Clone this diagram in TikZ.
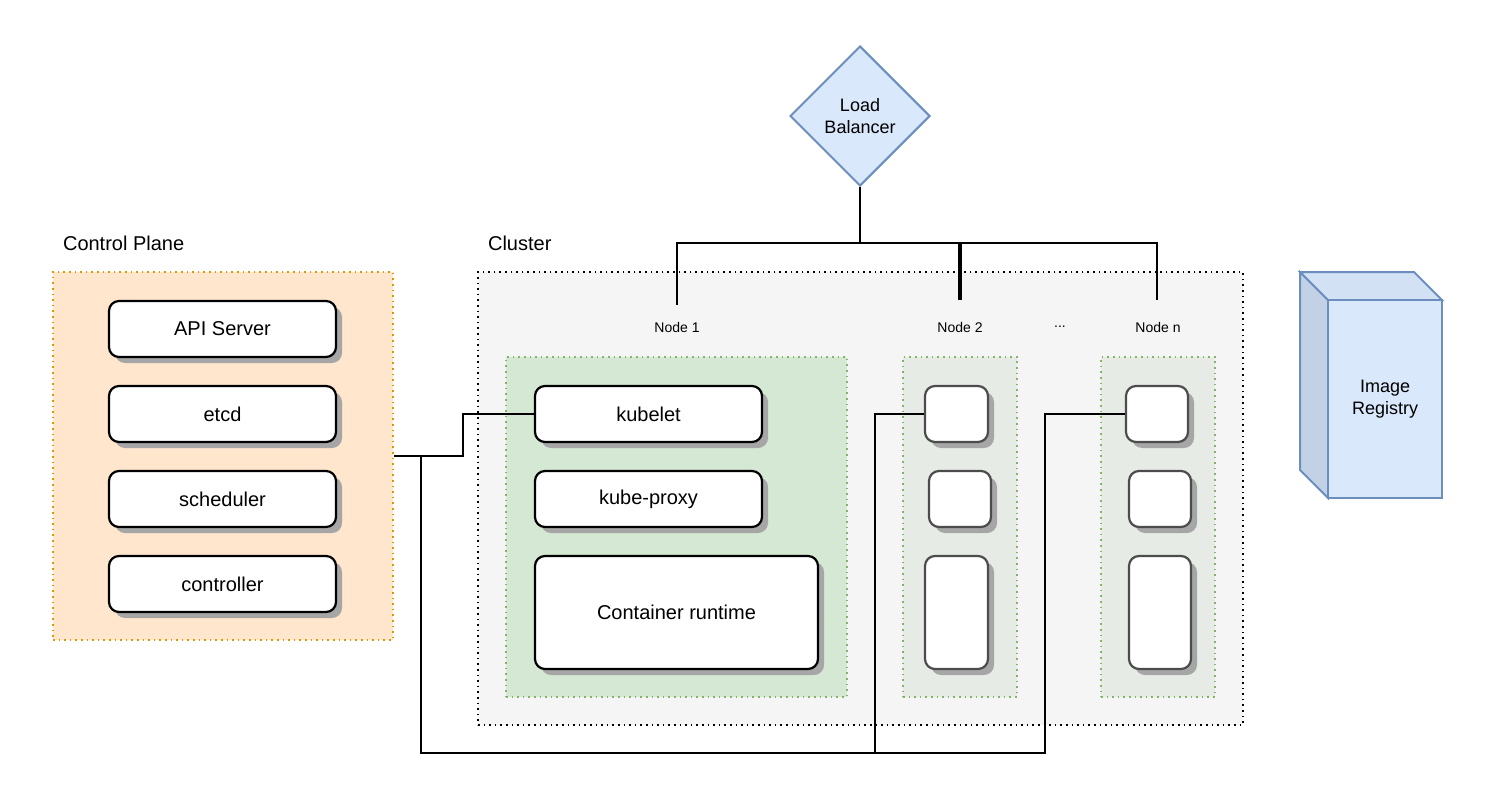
\documentclass[tikz,border=0pt]{standalone}
\usepackage{fontspec}
\setmainfont{Liberation Sans}
\usetikzlibrary{shapes.geometric,shadows}

\definecolor{cpfill}{HTML}{FFE6CC}
\definecolor{cpline}{HTML}{D79B00}
\definecolor{clfill}{HTML}{F5F5F5}
\definecolor{nfill}{HTML}{D5E8D4}
\definecolor{nline}{HTML}{82B366}
\definecolor{ngray}{HTML}{E6ECE5}
\definecolor{bfill}{HTML}{DAE8FC}
\definecolor{bline}{HTML}{6C8EBF}
\definecolor{bside}{HTML}{C3D1E6}

\tikzset{
  group/.style={draw,dotted,line width=0.8pt,inner sep=0pt},
  comp/.style={draw,rounded corners=5pt,fill=white,line width=1.1pt,
    font=\fontsize{10}{12}\selectfont,inner sep=0pt,
    drop shadow={shadow xshift=3pt,shadow yshift=-3pt,fill=black!35,opacity=1}},
  pod/.style={comp,draw=black!70},
  lbl/.style={font=\fontsize{7}{8}\selectfont},
  wire/.style={line width=1pt}
}

\begin{document}
\begin{tikzpicture}[x=0.5pt,y=-0.5pt]
\useasboundingbox (0,0) rectangle (1502,792);

% control plane
\node[group,draw=cpline,fill=cpfill,minimum width=170pt,minimum height=184pt] (cp) at (223,456) {};
\node[anchor=west,font=\fontsize{10}{12}\selectfont] (cpl) at (56,243) {Control Plane};
\node[comp,minimum width=113.5pt,minimum height=28pt] (api) at (222.5,329) {API Server};
\node[comp,minimum width=113.5pt,minimum height=28pt] (etcd) at (222.5,414) {etcd};
\node[comp,minimum width=113.5pt,minimum height=28pt] (sch) at (222.5,499) {scheduler};
\node[comp,minimum width=113.5pt,minimum height=28pt] (ctl) at (222.5,584) {controller};

% cluster
\node[group,fill=clfill,minimum width=382.5pt,minimum height=226.5pt] (cl) at (860.5,498.5) {};
\node[anchor=west,font=\fontsize{10}{12}\selectfont] (cll) at (481,243) {Cluster};

\node[lbl] (n1l) at (677,327) {Node 1};
\node[lbl] (n2l) at (960,327) {Node 2};
\node[lbl] (dots) at (1060,327) {...};
\node[lbl] (nnl) at (1158,327) {Node n};

% node 1
\node[group,draw=nline,fill=nfill,minimum width=170.5pt,minimum height=170pt] (n1) at (676.5,527) {};
\node[comp,minimum width=113.5pt,minimum height=28pt] (kubelet) at (648.5,414) {kubelet};
\node[comp,minimum width=113.5pt,minimum height=28pt] (proxy) at (648.5,499) {kube-proxy};
\node[comp,minimum width=141.5pt,minimum height=56.5pt] (cr) at (676.5,612.5) {Container runtime};

% node 2
\node[group,draw=nline,fill=ngray,minimum width=57pt,minimum height=170pt] (n2) at (960,527) {};
\node[pod,minimum width=31.5pt,minimum height=28pt] (n2a) at (956.5,414) {};
\node[pod,minimum width=31pt,minimum height=28pt] (n2b) at (960,499) {};
\node[pod,minimum width=31.5pt,minimum height=56.5pt] (n2c) at (956.5,612.5) {};

% node n
\node[group,draw=nline,fill=ngray,minimum width=57pt,minimum height=170pt] (nn) at (1158,527) {};
\node[pod,minimum width=31pt,minimum height=28pt] (nna) at (1157,414) {};
\node[pod,minimum width=31pt,minimum height=28pt] (nnb) at (1160,499) {};
\node[pod,minimum width=31pt,minimum height=56.5pt] (nnc) at (1160,612.5) {};

% load balancer
\node[diamond,draw=bline,fill=bfill,line width=1pt,minimum width=70pt,minimum height=70pt,
  align=center,inner sep=0pt,font=\fontsize{9}{11}\selectfont] (lb) at (860,116) {Load\\Balancer};

% image registry
\fill[bside,draw=bline,line width=1pt] (1300,272) -- (1328,300) -- (1328,498) -- (1300,470) -- cycle;
\fill[bfill!70!bside,draw=bline,line width=1pt] (1300,272) -- (1414,272) -- (1442,300) -- (1328,300) -- cycle;
\node[draw=bline,fill=bfill,line width=1pt,minimum width=57pt,minimum height=99pt,align=center,
  font=\fontsize{9}{11}\selectfont] (reg) at (1385,399) {Image\\Registry};

% wiring
\coordinate (lbj) at (860,243);
\coordinate (t1) at (677,305);
\coordinate (t2) at (960,300);
\coordinate (tn) at (1157,300);
\coordinate (j1) at (463,456);
\coordinate (j2) at (421,456);
\coordinate (b2) at (875,753);
\coordinate (bn) at (1045,753);
\draw[wire] (lb.south) -- (lbj);
\draw[wire] (t1) |- (lbj) -| (tn);
\draw[line width=1.6pt] (t2) -- (t2 |- lbj);
\draw[wire] (cp.east) -- (j1) |- (kubelet.west);
\draw[wire] (j2) |- (bn) |- (nna.west);
\draw[wire] (b2) |- (n2a.west);
\end{tikzpicture}
\end{document}
